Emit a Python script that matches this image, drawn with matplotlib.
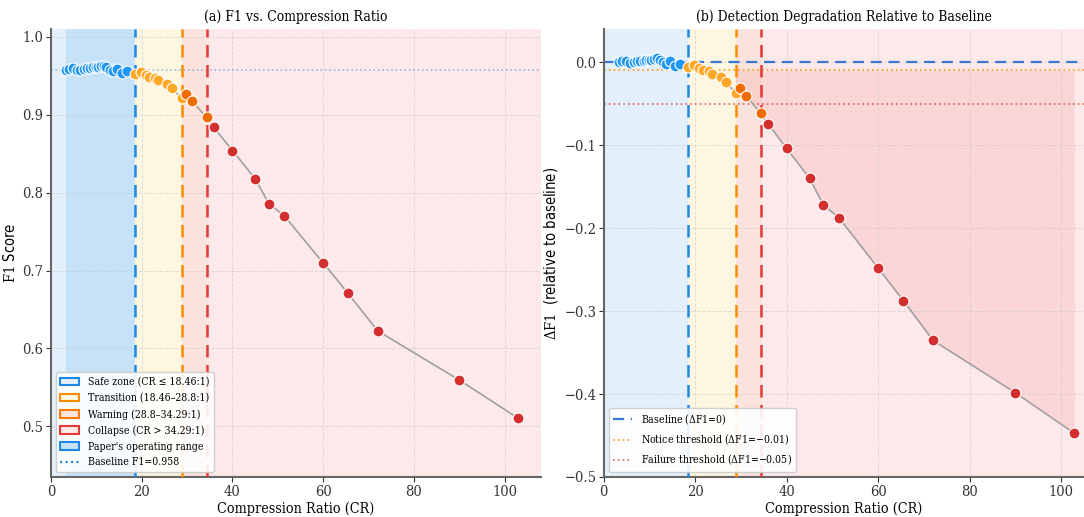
import numpy as np
import matplotlib
matplotlib.use('Agg')
import matplotlib.pyplot as plt
from matplotlib.patches import Patch
from matplotlib.lines import Line2D

plt.rcParams['font.family'] = 'DejaVu Serif'
plt.rcParams['font.stretch'] = 'condensed'
plt.rcParams['mathtext.fontset'] = 'dejavuserif'

BASELINE = 0.958
SAFE_MAX = 18.46
TRANS_MAX = 28.8
WARN_MAX = 34.29

# compression ratios and F1 values
cr_safe = [3.3, 3.9, 4.9, 5.8, 6.5, 7.3, 8.0, 8.7, 9.3, 9.9, 10.4, 11.0, 11.6, 12.2, 13.0, 13.6, 14.5, 15.6, 16.7]
f1_safe = [0.958, 0.959, 0.960, 0.957, 0.958, 0.959, 0.960, 0.960, 0.961, 0.961, 0.961, 0.962, 0.963, 0.961, 0.958, 0.956, 0.959, 0.953, 0.956]
cr_trans = [18.46, 19.8, 20.9, 21.6, 22.9, 23.7, 25.6, 26.7, 28.8]
f1_trans = [0.9525, 0.955, 0.9506, 0.9485, 0.947, 0.944, 0.940, 0.934, 0.921]
cr_warn = [29.8, 31.2, 34.29]
f1_warn = [0.927, 0.917, 0.8965]
cr_coll = [35.9, 40.0, 45.0, 48.0, 51.4, 60.0, 65.5, 72.0, 90.0, 102.9]
f1_coll = [0.8837, 0.854, 0.818, 0.786, 0.7705, 0.7098, 0.6706, 0.6226, 0.5595, 0.5106]

ZONES = [
    ('Safe zone (CR \u2264 18.46:1)', 0, SAFE_MAX, '#E3F0FB', '#1E88E5', '#2196F3'),
    ('Transition (18.46\u201328.8:1)', SAFE_MAX, TRANS_MAX, '#FDF6E1', '#FB8C00', '#FFA726'),
    ('Warning (28.8\u201334.29:1)', TRANS_MAX, WARN_MAX, '#FAE3DD', '#F57C00', '#EF6C00'),
    ('Collapse (CR > 34.29:1)', WARN_MAX, 200, '#FDE8EA', '#E53935', '#D32F2F'),
]
groups = [(cr_safe, f1_safe), (cr_trans, f1_trans), (cr_warn, f1_warn), (cr_coll, f1_coll)]

cr_all = np.array(cr_safe + cr_trans + cr_warn + cr_coll)
f1_all = np.array(f1_safe + f1_trans + f1_warn + f1_coll)
delta_all = f1_all - BASELINE


def style_axes(ax):
    for s in ['top', 'right']:
        ax.spines[s].set_visible(False)
    for s in ['left', 'bottom']:
        ax.spines[s].set_color('#666666')
        ax.spines[s].set_linewidth(1.5)
    ax.grid(True, linestyle='--', color='#cccccc', alpha=0.6, linewidth=0.7)
    ax.tick_params(labelsize=10.5, colors='#333333', pad=2)


def draw_zones(ax):
    for name, lo, hi, face, edge, pt in ZONES:
        ax.axvspan(lo, hi, facecolor=face, edgecolor='none', zorder=0)
    for x, c in [(SAFE_MAX, '#1E88E5'), (TRANS_MAX, '#FB8C00'), (WARN_MAX, '#E53935')]:
        ax.axvline(x, color=c, linestyle=(0, (5, 3)), linewidth=1.8, zorder=3)


def draw_points(ax, ys):
    ax.plot(cr_all, ys, color='#a0a0a0', linewidth=1.2, zorder=4)
    start = 0
    for (cr, f1), zone in zip(groups, ZONES):
        n = len(cr)
        ax.scatter(cr, ys[start:start + n], s=62, color=zone[5], edgecolor='white',
                   linewidth=0.8, zorder=5)
        start += n


fig = plt.figure(figsize=(10.84, 5.17), dpi=100)
ax1 = fig.add_axes([0.047, 0.0774, 0.452, 0.8665])
ax2 = fig.add_axes([0.557, 0.0774, 0.443, 0.8665])

# (a) F1 vs compression ratio
style_axes(ax1)
draw_zones(ax1)
ax1.axvspan(cr_safe[0], SAFE_MAX, facecolor='#C6E2F8', edgecolor='none', zorder=0.5)
ax1.axhline(BASELINE, color='#5C8FD6', linestyle=':', linewidth=1.2, alpha=0.6, zorder=2)
draw_points(ax1, f1_all)
ax1.set_xlim(0, 108)
ax1.set_ylim(0.435, 1.01)
ax1.set_title('(a) F1 vs. Compression Ratio', fontsize=10, pad=6)
ax1.set_xlabel('Compression Ratio (CR)', fontsize=10.3, labelpad=2)
ax1.set_ylabel(r'$\mathrm{F1}$ Score', fontsize=10.5, fontfamily='DejaVu Sans', labelpad=3)

handles = [Patch(facecolor=z[3], edgecolor=z[4], linewidth=1.5, label=z[0]) for z in ZONES]
handles.append(Patch(facecolor='#C6E2F8', edgecolor='#1E88E5', linewidth=1.5, label="Paper's operating range"))
handles.append(Line2D([0], [0], color='#1E88E5', linestyle=':', linewidth=1.5,
                      label='Baseline F1=%.3f' % BASELINE))
ax1.legend(handles=handles, loc='lower left', fontsize=7.6, framealpha=0.9,
           edgecolor='#cccccc', facecolor='white', handlelength=1.8, labelspacing=0.55)

# (b) delta F1 relative to baseline
style_axes(ax2)
draw_zones(ax2)
ax2.fill_between(cr_all, delta_all, -0.01, where=cr_all >= TRANS_MAX,
                 color='#E53935', alpha=0.1, linewidth=0, zorder=1)
ax2.axhline(0, color='#3A78D0', linestyle=(0, (5, 3)), linewidth=1.6, zorder=2,
            label=r'Baseline ($\Delta$F1=0)')
ax2.axhline(-0.01, color='#FB8C00', linestyle=':', linewidth=1.3, alpha=0.8, zorder=2,
            label=r'Notice threshold ($\Delta$F1=$-$0.01)')
ax2.axhline(-0.05, color='#E53935', linestyle=':', linewidth=1.3, alpha=0.7, zorder=2,
            label=r'Failure threshold ($\Delta$F1=$-$0.05)')
draw_points(ax2, delta_all)
ax2.set_xlim(0, 105)
ax2.set_ylim(-0.5, 0.04)
ax2.set_title('(b) Detection Degradation Relative to Baseline', fontsize=10, pad=6)
ax2.set_xlabel('Compression Ratio (CR)', fontsize=10.3, labelpad=2)
ax2.set_ylabel(r'$\Delta\mathrm{F1}$  (relative to baseline)', fontsize=10.5,
               fontfamily='DejaVu Sans', labelpad=3)
ax2.legend(loc='lower left', fontsize=7.6, framealpha=0.9, edgecolor='#cccccc', facecolor='white',
           handlelength=1.8, labelspacing=0.55)

plt.savefig('out.png', dpi=100)
